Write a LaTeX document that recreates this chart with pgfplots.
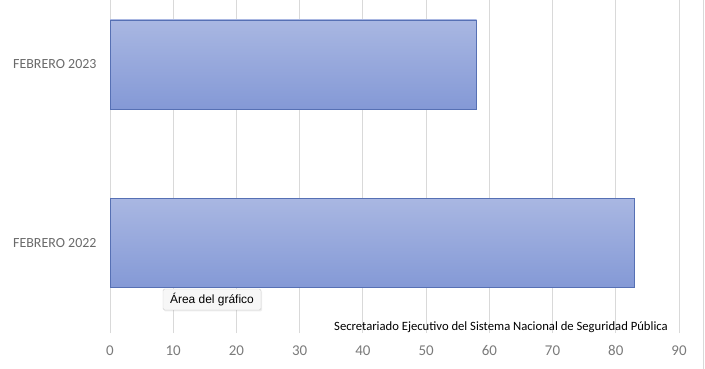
\documentclass[border=0pt]{standalone}
\usepackage{pgfplots}
\pgfplotsset{compat=1.18}
\usepackage{fontspec}
\setmainfont{Carlito}
\newfontfamily\tipfont{Liberation Sans}
\usetikzlibrary{shadows}
\definecolor{bartop}{HTML}{A9B7E2}
\definecolor{barbot}{HTML}{8499D6}
\definecolor{baredge}{HTML}{5670B4}
\definecolor{ticktext}{HTML}{6A6A6A}
\definecolor{xticktext}{HTML}{7A7A7A}
\definecolor{gridc}{HTML}{D9D9D9}
\pgfplotsset{mybar/.style={xbar, bar width=0.5, bar shift=0pt, draw=baredge, line width=0.6pt, top color=bartop, bottom color=barbot, mark=none}}
\begin{document}
\begin{tikzpicture}
\useasboundingbox (0,0) rectangle (705bp,369bp);
\begin{axis}[
  at={(110bp,36bp)}, anchor=south west,
  scale only axis, width=569bp, height=333bp,
  xmin=0, xmax=90, ymin=-0.505, ymax=1.361,
  xtick={0,10,...,90},
  ytick={0,1}, yticklabels={FEBRERO 2022, FEBRERO 2023},
  xmajorgrids, major grid style={gridc, line width=0.8pt},
  axis line style={draw=none}, tick style={draw=none},
  xticklabel style={font=\fontsize{15}{15}\selectfont, text=xticktext, yshift=-9bp},
  yticklabel style={font=\fontsize{14}{14}\selectfont, text=ticktext, xshift=-10bp},
  /pgf/number format/assume math mode=true,
  clip=false,
]
\addplot[mybar] coordinates {(83,0)};
\addplot[mybar] coordinates {(58,1)};
\end{axis}
\draw[gridc, line width=0.8pt] (703bp,0) -- (703bp,369bp);
\node[font=\fontsize{12.7}{12.7}\selectfont, text=black] at (501bp,42bp) {Secretariado Ejecutivo del Sistema Nacional de Seguridad Pública};
\node[font=\tipfont\fontsize{12}{12}\selectfont, fill=white!97!black, draw=black!20, rounded corners=1.5pt,
  drop shadow={opacity=0.15, shadow xshift=1bp, shadow yshift=-1.5bp},
  minimum width=98bp, minimum height=21bp, inner sep=2bp] at (212bp,69.5bp) {Área del gráfico};
\end{tikzpicture}
\end{document}
